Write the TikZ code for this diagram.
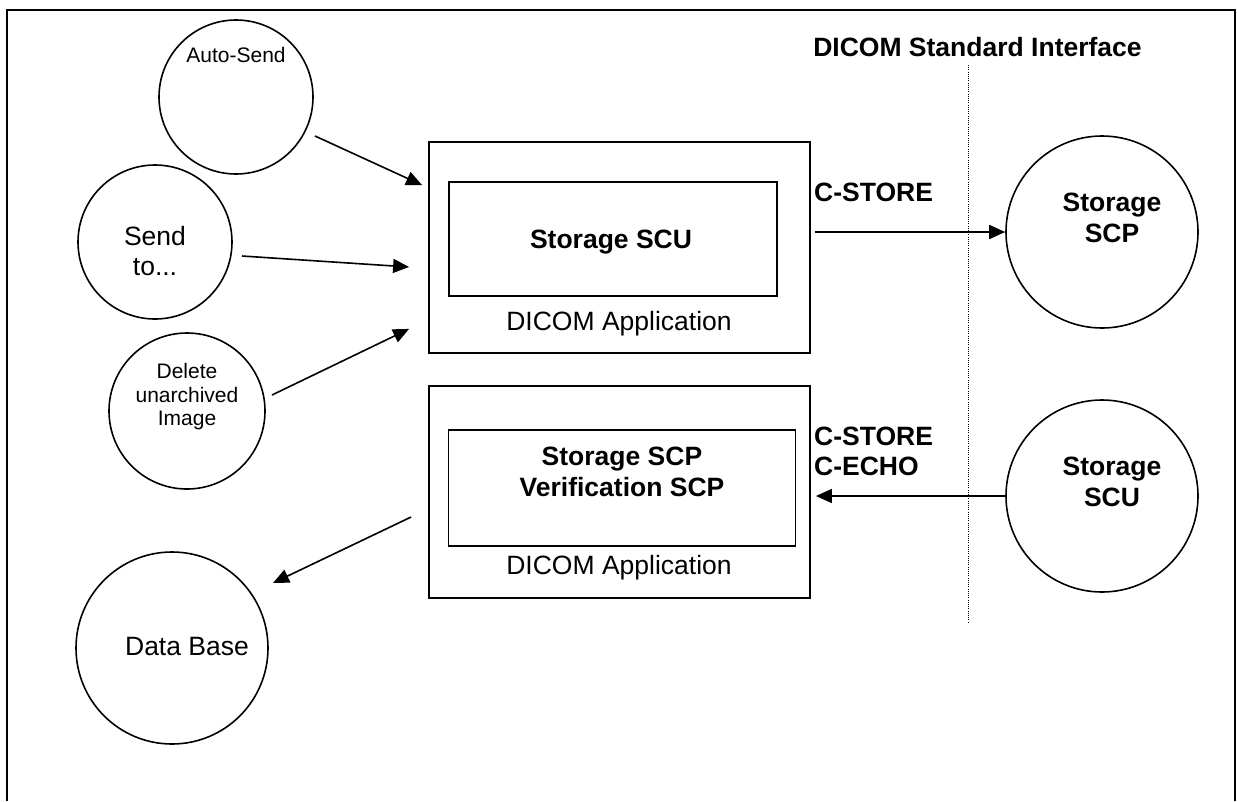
\documentclass[tikz,border=0pt]{standalone}
\usepackage{fontspec}
\setmainfont{Liberation Sans}
\usetikzlibrary{arrows.meta}

\begin{document}
\begin{tikzpicture}[x=1pt, y=-1pt,
    unit/.style={draw, circle, line width=1.6pt, inner sep=0pt},
    appbox/.style={draw, rectangle, line width=1.8pt, inner sep=0pt},
    txt/.style={inner sep=0pt, align=center, font=\fontsize{26.5}{30}\selectfont},
    btxt/.style={inner sep=0pt, align=center, font=\fontsize{26.5}{30.5}\selectfont\bfseries},
    stxt/.style={inner sep=0pt, align=center, font=\fontsize{21}{23.5}\selectfont},
    arr/.style={line width=1.6pt, -{Triangle[length=16pt,width=14pt]}},
    iface/.style={line width=1pt, dash pattern=on 1pt off 1.2pt}]

    % Page size and frame (open at the bottom)
    \useasboundingbox (0,0) rectangle (1237,801);
    \draw[line width=1.6pt] (7,801) -- (7,10) -- (1235,10) -- (1235,801);

    % Circles on the left
    \node[unit, minimum size=154pt] (autosend) at (236,97) {};
    \node[unit, minimum size=154pt] (sendto) at (155,242) {};
    \node[unit, minimum size=156pt] (delimg) at (187,411) {};
    \node[unit, minimum size=192pt] (db) at (172,648) {};

    \node[stxt] (autosendlbl) at (236,55) {Auto-Send};
    \node[txt] (sendtolbl) at (155,251.5) {Send\\to...};
    \node[stxt] (delimglbl) at (187,397) {Delete\\unarchived\\Image};
    \node[txt] (dblbl) at (187,647) {Data Base};

    % Application boxes
    \node[appbox, minimum width=381pt, minimum height=211pt] (app1) at (619.5,247.5) {};
    \node[appbox, minimum width=328pt, minimum height=114pt] (scubox) at (613,239) {};
    \node[appbox, minimum width=381pt, minimum height=212pt] (app2) at (619.5,492) {};
    \node[appbox, minimum width=347pt, minimum height=116pt] (scpbox) at (622,488) {};

    \node[btxt] (scuboxlbl) at (611,242.5) {Storage SCU};
    \node[txt] (app1lbl) at (619,324) {DICOM Application};
    \node[btxt] (scpboxlbl) at (622,471.7) {Storage SCP\\Verification SCP};
    \node[txt] (app2lbl) at (619,568) {DICOM Application};

    % Remote side
    \node[unit, minimum size=192pt] (scp) at (1102,232) {};
    \node[unit, minimum size=192pt] (scu) at (1102,496) {};
    \node[btxt] (scplbl) at (1112,218) {Storage\\SCP};
    \node[btxt] (sculbl) at (1112,482) {Storage\\SCU};

    % Interface line and labels
    \node[btxt] (title) at (977.5,46.7) {DICOM Standard Interface};
    \coordinate (iftop) at (968,65);
    \coordinate (ifbot) at (968,623);
    \draw[iface] (iftop) -- (ifbot);
    \node[btxt, anchor=west, align=left] (storelbl) at (814,192) {C-STORE};
    \node[btxt, anchor=west, align=left] (echolbl) at (814,451.5) {C-STORE\\C-ECHO};

    % Arrows
    \draw[arr] ([shift={(79,39)}]autosend.center) -- ([shift={(-6,44)}]app1.north west);
    \draw[arr] ([shift={(87,14)}]sendto.center) -- ([shift={(-19,19.5)}]app1.west);
    \draw[arr] ([shift={(85,-16)}]delimg.center) -- ([shift={(-19,-25)}]app1.south west);
    \draw[arr, shorten <=4pt] (app1.east |- scp.west) -- (scp.west);
    \draw[arr, shorten >=5pt] (scu.west) -- (scu.west -| app2.east);
    \draw[arr] ([shift={(-17,25)}]app2.west) -- ([shift={(101,-65)}]db.center);
\end{tikzpicture}
\end{document}
